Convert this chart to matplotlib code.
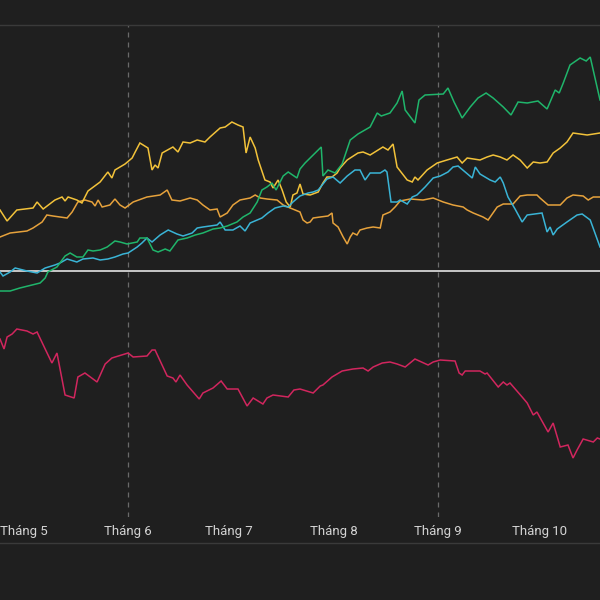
import matplotlib
matplotlib.use("Agg")
import matplotlib.pyplot as plt
from matplotlib.lines import Line2D
import pandas as pd

START = "2023-04-24"
X_SPAN_DAYS = 178

month_ticks = ["2023-05-01", "2023-06-01", "2023-07-01", "2023-08-01", "2023-09-01", "2023-10-01"]
month_labels = ["Tháng 5", "Tháng 6", "Tháng 7", "Tháng 8", "Tháng 9", "Tháng 10"]
dashed_months = ["2023-06-01", "2023-09-01"]

# series: days since START, value (% change)
gold_days = [0.0, 2.1, 5.0, 9.8, 11.0, 12.8, 16.3, 18.4, 19.3, 20.2, 22.8, 24.3, 26.1, 29.7, 32.0, 33.2, 34.1,
             37.1, 39.2, 40.1, 41.5, 43.9, 45.1, 46.0, 46.9, 48.1, 51.3, 52.8, 54.3, 56.4, 58.5, 60.8, 62.3,
             65.3, 66.8, 68.8, 70.6, 72.1, 73.0, 74.2, 75.7, 76.6, 78.6, 80.1, 81.0, 82.5, 83.7, 84.9, 86.1,
             86.9, 88.1, 89.0, 89.9, 92.0, 94.4, 95.8, 97.0, 98.5, 100.0, 100.9, 103.0, 103.9, 106.2, 107.7,
             109.8, 113.6, 115.1, 116.6, 117.8, 120.8, 122.3, 123.1, 124.0, 126.7, 129.7, 132.6, 135.6, 137.1,
             138.6, 142.4, 144.5, 146.3, 148.4, 150.4, 152.2, 154.3, 156.4, 158.2, 160.2, 162.3, 164.1, 166.2,
             168.2, 170.0, 174.2, 178.0]
gold_vals = [6.1, 5.0, 6.1, 6.3, 6.9, 6.2, 7.1, 7.4, 7.0, 7.4, 7.1, 6.8, 8.0, 8.9, 9.9, 9.3, 10.1,
             10.7, 11.3, 11.9, 12.8, 12.3, 10.1, 10.6, 10.3, 11.8, 12.4, 11.9, 12.9, 12.8, 13.1, 12.9, 13.4,
             14.3, 14.4, 14.9, 14.6, 14.4, 11.8, 13.4, 12.3, 11.1, 9.1, 8.9, 8.3, 9.1, 8.1, 6.9, 6.4,
             7.6, 7.8, 8.7, 7.7, 7.6, 7.9, 8.8, 9.4, 9.4, 9.8, 10.3, 11.1, 11.3, 11.8, 11.9,
             11.6, 12.4, 12.1, 12.7, 10.4, 9.1, 8.9, 9.4, 9.1, 10.1, 10.8, 11.1, 11.4, 10.8,
             11.3, 11.1, 11.4, 11.6, 11.4, 11.1, 11.6, 11.1, 10.3, 10.9, 10.8, 10.9, 11.8, 12.3,
             12.9, 13.8, 13.6, 13.8]

orange_days = [0.0, 3.0, 8.0, 9.8, 12.5, 13.9, 15.7, 19.9, 21.4, 23.1, 25.2, 27.3, 28.2, 29.1, 30.3, 32.6,
               34.1, 35.6, 37.1, 39.5, 43.6, 47.5, 49.6, 51.0, 53.4, 56.4, 58.5, 60.2, 62.3, 64.4, 65.3,
               67.4, 69.1, 71.2, 74.2, 75.7, 77.2, 79.2, 82.2, 84.0, 86.1, 89.0, 89.9, 91.1, 92.0, 92.9,
               95.0, 97.3, 98.5, 98.8, 100.3, 101.8, 103.0, 103.9, 104.7, 105.9, 106.8, 108.9, 110.7,
               112.8, 113.6, 115.7, 117.2, 118.7, 121.7, 125.5, 128.5, 131.5, 134.4, 137.4, 138.6, 140.4,
               143.3, 144.8, 147.5, 149.3, 152.2, 154.3, 156.4, 159.3, 160.2, 162.6, 166.2, 168.2, 170.0,
               173.0, 174.5, 176.0, 178.0]
orange_vals = [3.4, 3.8, 4.0, 4.3, 4.9, 5.6, 5.5, 5.3, 5.9, 6.9, 7.1, 6.9, 6.5, 7.1, 6.4, 6.6,
               7.2, 6.6, 6.3, 6.9, 7.4, 7.6, 8.1, 7.1, 7.0, 7.3, 7.1, 6.6, 6.1, 6.2, 5.4,
               5.8, 6.6, 7.1, 7.3, 7.6, 7.3, 7.2, 7.1, 6.6, 6.3, 5.9, 5.1, 4.8, 4.9, 5.3,
               5.4, 5.5, 5.8, 4.8, 4.4, 3.4, 2.7, 3.4, 3.8, 3.6, 4.1, 4.3, 4.4,
               4.3, 5.6, 5.9, 6.4, 7.0, 7.2, 7.1, 7.3, 6.9, 6.6, 6.4, 6.1, 5.8,
               5.4, 5.1, 6.4, 6.7, 6.7, 7.5, 7.6, 7.6, 7.3, 6.6, 6.6, 7.3, 7.6,
               7.5, 7.1, 7.4, 7.4]

green_days = [0.0, 3.0, 5.9, 11.9, 13.4, 14.2, 16.9, 19.3, 20.8, 22.8, 24.6, 26.1, 27.6, 29.7, 31.8, 34.1,
              35.6, 37.7, 40.7, 41.5, 43.6, 45.4, 46.9, 49.0, 50.4, 52.8, 55.5, 57.9, 60.2, 63.2, 65.3,
              67.4, 70.3, 72.1, 74.2, 76.3, 77.7, 79.2, 80.7, 81.9, 84.0, 85.5, 88.1, 89.0, 90.5, 95.3,
              95.8, 97.3, 99.4, 101.5, 103.9, 106.2, 109.8, 111.9, 113.1, 115.7, 117.8, 119.3, 120.2,
              123.1, 124.3, 126.1, 131.5, 132.9, 134.7, 137.1, 139.5, 141.8, 144.2, 146.3, 149.3, 151.6,
              153.7, 156.4, 159.6, 162.3, 164.7, 165.9, 167.1, 169.1, 172.1, 173.9, 175.1, 178.0]
green_vals = [-2.0, -2.0, -1.7, -1.2, -0.7, -0.1, 0.4, 1.5, 1.8, 1.4, 1.4, 2.1, 2.0, 2.1, 2.4, 3.0,
              2.9, 2.7, 2.9, 3.3, 3.3, 2.1, 1.9, 2.2, 2.0, 3.1, 3.3, 3.6, 3.8, 4.2, 4.3,
              4.5, 4.9, 5.4, 5.8, 6.9, 8.1, 8.4, 8.8, 8.1, 9.5, 9.9, 9.3, 10.2, 10.8, 12.4,
              9.5, 10.1, 9.8, 10.7, 13.1, 13.7, 14.4, 15.8, 15.5, 15.8, 16.8, 18.0, 16.1,
              14.8, 17.1, 17.6, 17.7, 18.3, 16.9, 15.3, 16.4, 17.3, 17.8, 17.3, 16.4, 15.6,
              16.9, 16.8, 17.0, 16.2, 18.1, 17.8, 18.8, 20.6, 21.3, 21.0, 21.4, 17.1]

cyan_days = [0.0, 0.9, 3.0, 4.5, 8.0, 11.0, 13.4, 16.3, 17.8, 19.9, 22.8, 24.6, 27.6, 29.7, 32.0, 34.1,
             36.5, 38.0, 40.7, 42.1, 43.6, 45.1, 47.5, 49.9, 52.5, 54.3, 57.0, 58.5, 60.2, 62.3, 64.4,
             65.3, 66.8, 69.1, 71.2, 72.7, 74.2, 77.7, 79.5, 81.6, 84.0, 85.5, 86.9, 89.0, 91.4, 92.9,
             94.4, 97.0, 98.8, 100.9, 103.0, 105.3, 106.8, 108.3, 109.8, 112.8, 114.2, 114.8, 116.0,
             117.8, 118.7, 120.8, 122.3, 123.7, 126.1, 128.5, 130.6, 132.9, 134.4, 135.9, 138.0, 140.1,
             141.0, 142.4, 143.9, 145.4, 146.9, 148.4, 149.3, 150.7, 152.8, 154.9, 156.4, 160.8, 162.3,
             163.2, 164.1, 165.3, 168.2, 171.2, 172.7, 175.1, 178.0]
cyan_vals = [-0.1, -0.5, -0.1, 0.3, 0.0, -0.2, 0.3, 0.6, 0.8, 1.2, 0.9, 1.2, 1.3, 1.1, 1.2, 1.4,
             1.7, 1.8, 2.4, 2.8, 3.3, 2.9, 3.6, 4.1, 3.7, 3.5, 3.8, 4.3, 4.4, 4.5, 4.6,
             4.9, 4.1, 4.1, 4.5, 4.0, 4.8, 5.3, 5.8, 6.3, 6.5, 6.4, 6.9, 7.5, 7.8, 7.9,
             8.1, 9.2, 9.4, 8.8, 9.5, 10.1, 10.1, 9.1, 9.8, 9.8, 10.1, 9.9, 6.9,
             6.9, 7.1, 6.7, 7.4, 7.6, 8.4, 9.3, 9.5, 9.9, 10.4, 10.5, 9.9, 9.3,
             10.4, 9.7, 9.4, 9.1, 8.9, 9.4, 8.8, 7.4, 6.2, 4.9, 5.6, 5.8, 3.9,
             4.4, 3.6, 4.2, 4.9, 5.6, 5.7, 5.1, 2.4]

pink_days = [0.0, 1.2, 2.1, 3.6, 5.0, 8.0, 9.8, 11.0, 13.4, 15.4, 16.9, 19.3, 22.0, 23.1, 25.2, 28.8,
             31.2, 33.2, 38.0, 39.5, 43.6, 45.1, 46.0, 49.6, 51.3, 52.2, 53.4, 55.5, 59.1, 60.2, 63.2,
             65.6, 67.4, 70.6, 73.3, 75.1, 78.0, 79.2, 81.0, 85.5, 87.2, 89.0, 92.9, 95.0, 95.8, 98.5,
             101.5, 104.7, 107.7, 109.2, 110.7, 113.4, 115.7, 117.8, 120.2, 123.1, 127.0, 128.5, 130.6,
             135.0, 136.2, 137.1, 138.0, 142.4, 143.9, 144.5, 147.8, 149.3, 150.4, 151.3, 154.9, 156.4,
             158.2, 159.3, 162.6, 164.1, 166.2, 168.5, 170.0, 171.2, 173.0, 176.0, 177.2, 178.0]
pink_vals = [-6.8, -7.8, -6.6, -6.3, -5.8, -6.0, -6.3, -6.1, -7.8, -9.2, -8.2, -12.4, -12.7, -10.6, -10.2, -11.1,
             -9.3, -8.7, -8.2, -8.6, -8.5, -7.9, -7.9, -10.5, -10.7, -11.1, -10.4, -11.4, -12.8, -12.2, -11.7,
             -11.0, -11.8, -11.8, -13.5, -12.7, -13.3, -12.7, -12.4, -12.6, -11.9, -11.8, -12.2, -11.5, -11.4, -10.6,
             -10.0, -9.8, -9.7, -10.0, -9.6, -9.2, -9.1, -9.3, -9.6, -8.8, -9.4, -9.1, -8.9,
             -9.0, -10.2, -10.4, -10.0, -10.0, -10.3, -10.2, -11.6, -11.1, -11.4, -11.2, -12.6, -13.2,
             -14.4, -14.1, -16.1, -15.2, -17.6, -17.4, -18.7, -17.9, -16.8, -17.1, -16.7, -16.8]

series = [
    (orange_days, orange_vals, "#e6a23c"),
    (gold_days, gold_vals, "#f2c23a"),
    (cyan_days, cyan_vals, "#3ab4d6"),
    (green_days, green_vals, "#1fb56b"),
    (pink_days, pink_vals, "#d1265e"),
]

BG = "#1f1f1f"
W, H = 600, 600
fig = plt.figure(figsize=(6, 6), dpi=100, facecolor=BG)
ax_top, ax_bot = 25, 517
ax = fig.add_axes([0, 1 - ax_bot / H, 1, (ax_bot - ax_top) / H])
ax.set_facecolor(BG)

start = pd.Timestamp(START)
for days, vals, col in series:
    dates = start + pd.to_timedelta(days, unit="D")
    ax.plot(dates, vals, color=col, lw=1.1, solid_joinstyle="miter", zorder=3)

ax.axhline(0, color="#d4d4d4", lw=1.3, zorder=2)
for m in dashed_months:
    ax.axvline(pd.Timestamp(m), color="#6a6a6a", lw=0.9, ls=(0, (4, 4)), zorder=1)

ax.set_xlim(start, start + pd.Timedelta(days=X_SPAN_DAYS))
ax.set_ylim(-24.6, 24.6)

ax.set_xticks([pd.Timestamp(m) for m in month_ticks])
ax.set_xticklabels(month_labels, fontsize=9.5, color="#d4d4d4", family=["Roboto", "DejaVu Sans"])
ax.tick_params(axis="x", length=0, pad=6)
ax.set_yticks([])

for s in ["left", "right", "bottom"]:
    ax.spines[s].set_visible(False)
ax.spines["top"].set_color("#3a3a3a")
ax.spines["top"].set_linewidth(1.0)

fig.add_artist(Line2D([0, 1], [1 - 543 / H, 1 - 543 / H], transform=fig.transFigure,
                      color="#3a3a3a", lw=1.0))

fig.savefig("out.png", dpi=100, facecolor=BG)
